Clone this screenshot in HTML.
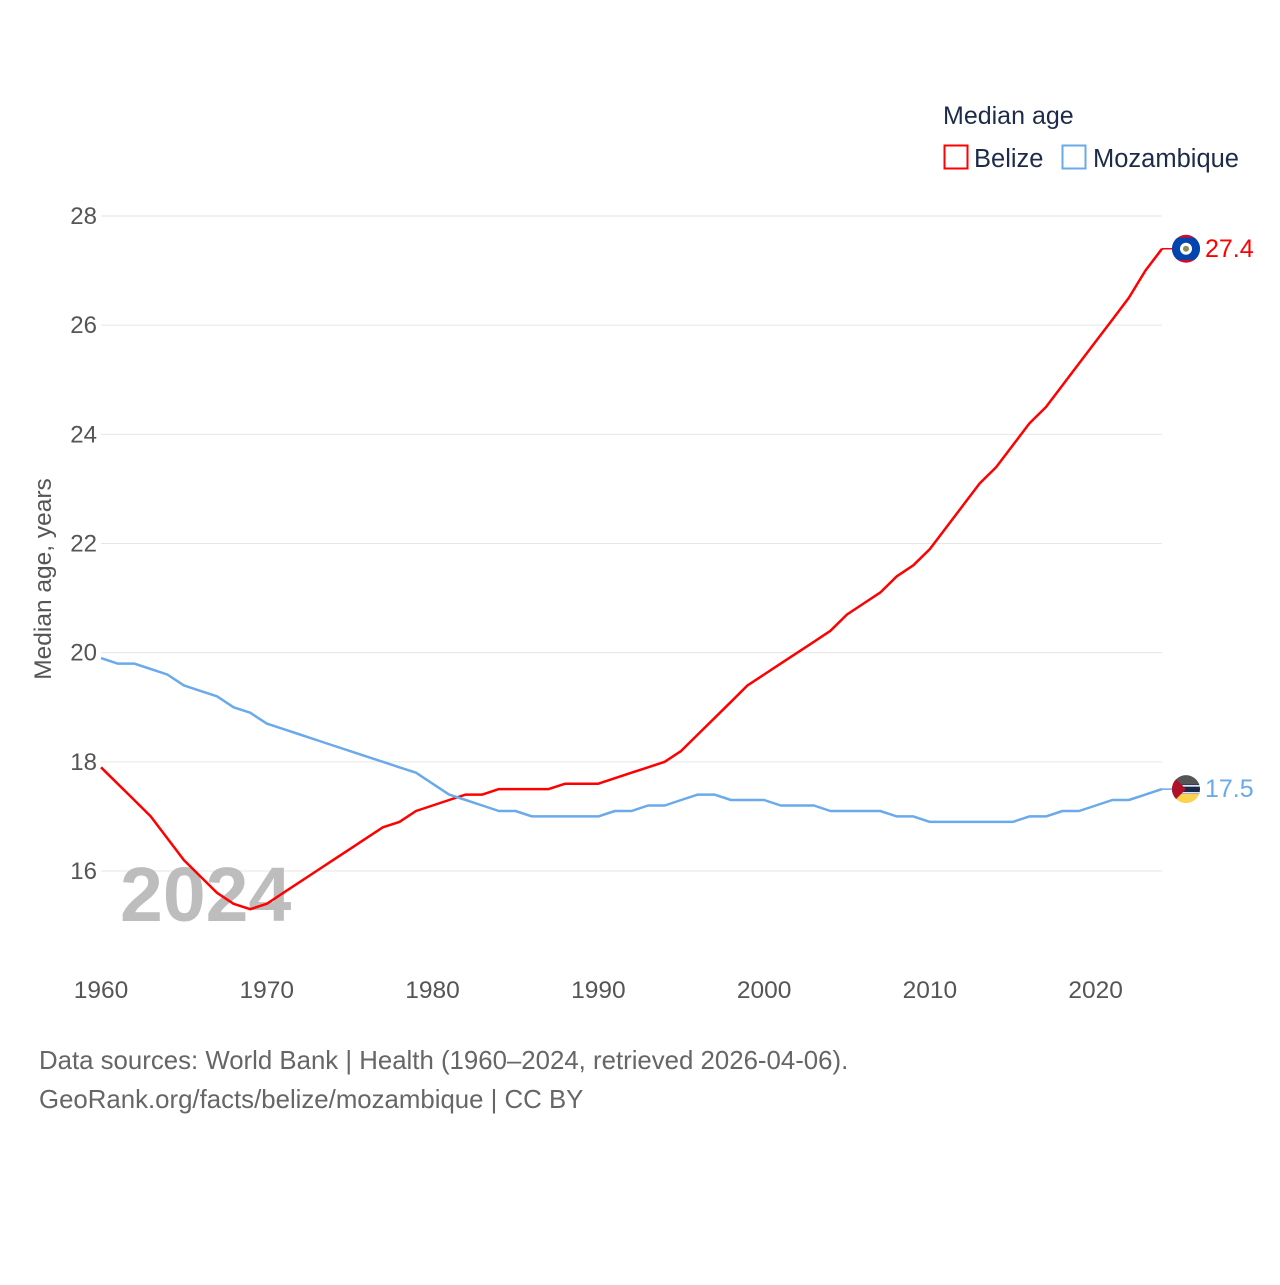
<!DOCTYPE html>
<html><head><meta charset="utf-8"><style>
html,body{margin:0;padding:0;background:#fff;}
svg text{font-family:"Liberation Sans",sans-serif;}
</style></head><body>
<svg id="chart" width="1280" height="1280" viewBox="0 0 1280 1280" xmlns="http://www.w3.org/2000/svg">
<defs>
<clipPath id="bzc"><circle cx="1186" cy="249" r="14"/></clipPath>
<clipPath id="mzc"><circle cx="1186" cy="789" r="14"/></clipPath>
</defs>
<text x="943" y="124" font-size="25" fill="#1d2b4a">Median age</text>
<g>
<rect x="944.5" y="145.5" width="23" height="23" fill="none" stroke="#ff0000" stroke-width="2"/>
<text x="974" y="167" font-size="25.5" fill="#1d2b4a">Belize</text></g>
<g>
<rect x="1062.5" y="145.5" width="23" height="23" fill="none" stroke="#6aaaea" stroke-width="2"/>
<text x="1093" y="167" font-size="25.5" fill="#1d2b4a">Mozambique</text></g>
<g id="grid"></g>
<g id="yticks"></g>
<g id="xticks"></g>
<text x="0" y="0" transform="translate(51,579) rotate(-90)" text-anchor="middle" font-size="24.5" fill="#555">Median age, years</text>
<text x="120" y="921" font-size="77" font-weight="bold" fill="#bdbdbd">2024</text>
<g id="series"></g>
<text x="39" y="1069" font-size="25.8" fill="#666">Data sources: World Bank | Health (1960–2024, retrieved 2026-04-06).</text>
<text x="39" y="1108" font-size="25.8" fill="#666">GeoRank.org/facts/belize/mozambique | CC BY</text>
</svg>
<script>
const years = [];
for (let y = 1960; y <= 2024; y++) years.push(y);
const belize = [17.9,17.6,17.3,17.0,16.6,16.2,15.9,15.6,15.4,15.3,15.4,15.6,15.8,16.0,16.2,16.4,16.6,16.8,16.9,17.1,17.2,17.3,17.4,17.4,17.5,17.5,17.5,17.5,17.6,17.6,17.6,17.7,17.8,17.9,18.0,18.2,18.5,18.8,19.1,19.4,19.6,19.8,20.0,20.2,20.4,20.7,20.9,21.1,21.4,21.6,21.9,22.3,22.7,23.1,23.4,23.8,24.2,24.5,24.9,25.3,25.7,26.1,26.5,27.0,27.4];
const mozambique = [19.9,19.8,19.8,19.7,19.6,19.4,19.3,19.2,19.0,18.9,18.7,18.6,18.5,18.4,18.3,18.2,18.1,18.0,17.9,17.8,17.6,17.4,17.3,17.2,17.1,17.1,17.0,17.0,17.0,17.0,17.0,17.1,17.1,17.2,17.2,17.3,17.4,17.4,17.3,17.3,17.3,17.2,17.2,17.2,17.1,17.1,17.1,17.1,17.0,17.0,16.9,16.9,16.9,16.9,16.9,16.9,17.0,17.0,17.1,17.1,17.2,17.3,17.3,17.4,17.5];
const yTicks = [16,18,20,22,24,26,28];
const xTicks = [1960,1970,1980,1990,2000,2010,2020];

const NS = "http://www.w3.org/2000/svg";
const xs = y => 101 + (y - 1960) * (1162 - 101) / 64;
const ys = v => 216 + (28 - v) * (871 - 216) / 12;
function mk(tag, attrs, parent){const e=document.createElementNS(NS,tag);for(const k in attrs)e.setAttribute(k,attrs[k]);parent.appendChild(e);return e;}

const grid = document.getElementById('grid'), yt = document.getElementById('yticks'), xt = document.getElementById('xticks'), ser = document.getElementById('series');
yTicks.forEach(v => {
  const l = mk('line',{x1:101,x2:1162,y1:ys(v),y2:ys(v),stroke:'#e6e6e6','stroke-width':1},grid);
  
  
  const t = mk('text',{x:97,y:ys(v)+8,'text-anchor':'end','font-size':24,fill:'#555'},yt);
  t.textContent = v;
  
  
});
xTicks.forEach(v => {
  const t = mk('text',{x:xs(v),y:998,'text-anchor':'middle','font-size':24.5,fill:'#555'},xt);
  t.textContent = v;
  
  
});
function line(vals,color,name){
  const d = vals.map((v,i)=>(i?'L':'M')+xs(years[i]).toFixed(1)+' '+ys(v).toFixed(1)).join(' ');
  const p = mk('path',{d:d,fill:'none',stroke:color,'stroke-width':2.5,'stroke-linejoin':'round'},ser);
  
  
  const last = vals[vals.length-1], ly = ys(last);
  mk('line',{x1:xs(years[years.length-1]),x2:1172,y1:ly,y2:ly,stroke:color,'stroke-width':1.5},ser);
  return ly;
}
const by = line(belize,'#ff0000','belize-line');
const my = line(mozambique,'#6aaaea','mozambique-line');
document.querySelector('#bzc circle').setAttribute('cy', by);
document.querySelector('#mzc circle').setAttribute('cy', my);
// Belize flag
let g = mk('g',{'clip-path':'url(#bzc)'},ser);


mk('rect',{x:1170,y:by-16,width:32,height:32,fill:'#c8102e'},g);
mk('rect',{x:1170,y:by-11,width:32,height:22,fill:'#0046ae'},g);
mk('circle',{cx:1186,cy:by,r:6,fill:'#fff'},g);
mk('circle',{cx:1186,cy:by,r:3,fill:'#8a8a5a'},g);
const bt = mk('text',{x:1205,y:by+8,'font-size':25,fill:'#ff0000'},ser);
bt.textContent = belize[belize.length-1].toFixed(1);


// Mozambique flag
g = mk('g',{'clip-path':'url(#mzc)'},ser);


mk('rect',{x:1170,y:my-16,width:32,height:11,fill:'#555'},g);
mk('rect',{x:1170,y:my-5,width:32,height:10,fill:'#1a2a4a'},g);
mk('rect',{x:1170,y:my-4,width:32,height:1.5,fill:'#fff'},g);
mk('rect',{x:1170,y:my+3,width:32,height:1.5,fill:'#fff'},g);
mk('rect',{x:1170,y:my+5,width:32,height:11,fill:'#fcd34d'},g);
mk('polygon',{points:`1170,${my-16} 1186,${my} 1170,${my+16}`,fill:'#b0102a'},g);
const mt = mk('text',{x:1205,y:my+8,'font-size':25,fill:'#6aaaea'},ser);
mt.textContent = mozambique[mozambique.length-1].toFixed(1);


</script>
</body></html>
